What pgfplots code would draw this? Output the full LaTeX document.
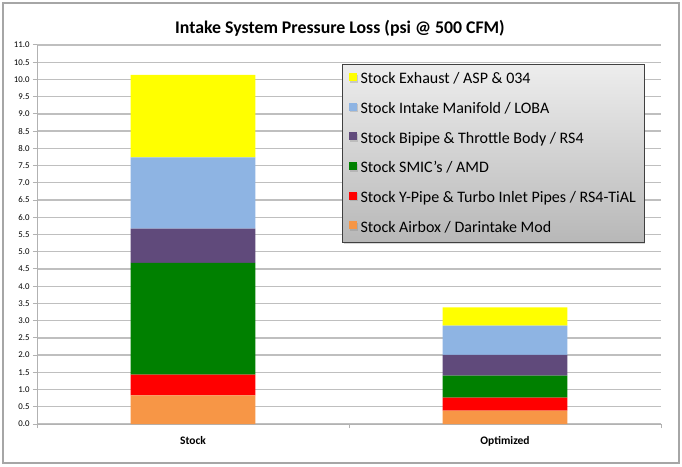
\documentclass[border=0pt]{standalone}
\usepackage{pgfplots}
\pgfplotsset{compat=1.18}
\usepackage{fontspec}
\setmainfont{Carlito}
\usetikzlibrary{shadows}
\definecolor{cyel}{HTML}{FFFF00}
\definecolor{cblue}{HTML}{8EB4E3}
\definecolor{cpurp}{HTML}{604A7B}
\definecolor{cgreen}{HTML}{008000}
\definecolor{cred}{HTML}{FF0000}
\definecolor{corange}{HTML}{F79646}
\begin{document}
\begin{tikzpicture}[x=1pt,y=1pt]
\useasboundingbox (0,0) rectangle (682,466);
\fill[white] (0,0) rectangle (682,466);
\draw[color=black!35, line width=1.2pt] (3,3) rectangle (679,463);
\node[font=\bfseries\fontsize{17.8}{20}\selectfont] at (340,438) {Intake System Pressure Loss (psi @ 500 CFM)};
\begin{axis}[at={(37pt,42pt)}, anchor=south west, scale only axis,
  width=624pt, height=379pt,
  ybar stacked, bar width=0.4,
  xmin=-0.5, xmax=1.5, ymin=0, ymax=11,
  ytick distance=0.5,
  /pgf/number format/assume math mode=true,
  y tick label style={/pgf/number format/.cd, fixed, fixed zerofill, precision=1, /tikz/.cd, font=\fontsize{8.8}{10}\selectfont},
  axis lines*=left,
  axis line style={draw=black!30, line width=1pt},
  ymajorgrids, grid style={draw=black!25, line width=1.3pt},
  xtick={-0.5,0.5,1.5}, xticklabels={},
  tick align=outside, major tick length=4pt,
  tick style={draw=black!30, line width=1pt},
  extra x ticks={0,1}, extra x tick labels={Stock,Optimized},
  extra x tick style={major tick length=0pt, grid=none, tick label style={font=\bfseries\fontsize{11.5}{12}\selectfont, yshift=-9pt}},
  legend style={at={(0.489,0.95)}, anchor=north west, top color=black!7, bottom color=black!28,
    draw=black!75, line width=0.8pt, drop shadow={opacity=0.3, shadow xshift=1.5pt, shadow yshift=-1.5pt},
    font=\fontsize{16}{18}\selectfont, row sep=13pt, inner xsep=6pt, inner ysep=6.5pt,
    cells={anchor=west}},
  legend image code/.code={\fill[#1,draw=none] (0pt,-2pt) rectangle (8pt,6pt); \path (10pt,0pt);},
  reverse legend,
]
\addplot[fill=corange, draw=none] coordinates {(0,0.83) (1,0.39)};
\addplot[fill=cred, draw=none] coordinates {(0,0.60) (1,0.375)};
\addplot[fill=cgreen, draw=none] coordinates {(0,3.25) (1,0.64)};
\addplot[fill=cpurp, draw=none] coordinates {(0,0.99) (1,0.60)};
\addplot[fill=cblue, draw=none] coordinates {(0,2.07) (1,0.85)};
\addplot[fill=cyel, draw=none] coordinates {(0,2.39) (1,0.53)};
\legend{Stock Airbox / Darintake Mod, Stock Y-Pipe \& Turbo Inlet Pipes / RS4-TiAL, Stock SMIC's / AMD, Stock Bipipe \& Throttle Body / RS4, Stock Intake Manifold / LOBA, Stock Exhaust / ASP \& 034}
\end{axis}
\end{tikzpicture}
\end{document}
